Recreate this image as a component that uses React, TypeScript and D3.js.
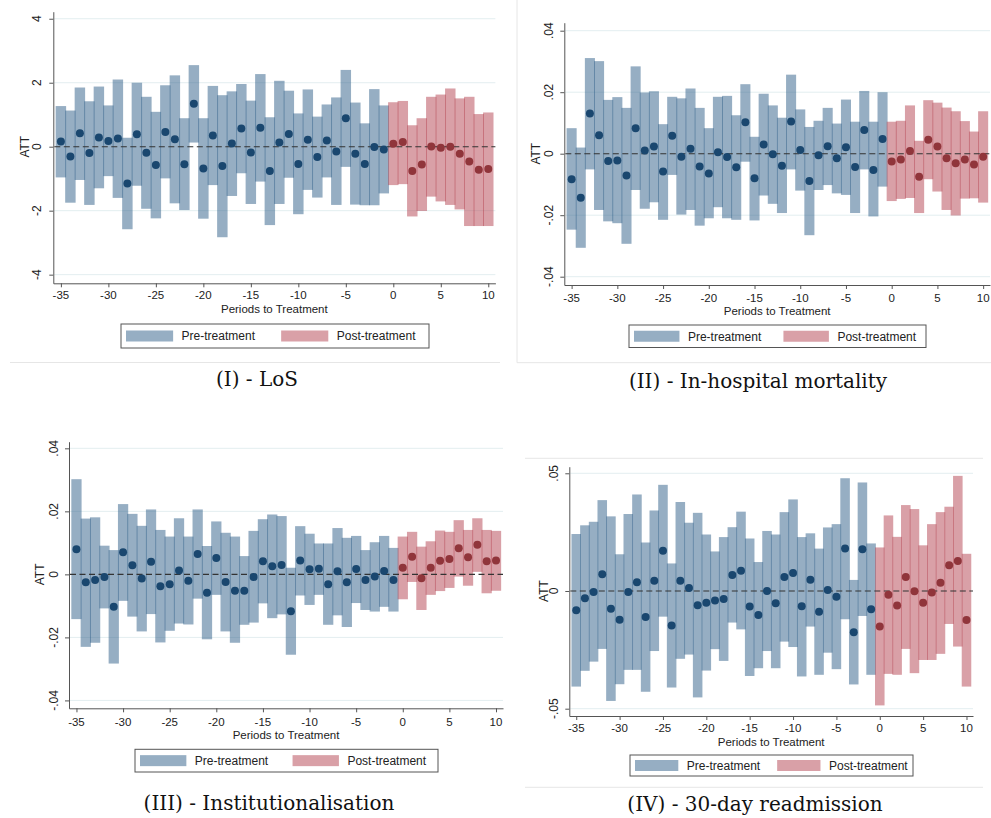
import React, { useEffect, useRef } from 'react'
import * as d3 from 'd3'

// periods to treatment (event time)
const periods = [
  -35, -34, -33, -32, -31, -30, -29, -28, -27, -26, -25, -24, -23, -22, -21, -20,
  -19, -18, -17, -16, -15, -14, -13, -12, -11, -10, -9, -8, -7, -6, -5, -4, -3, -2,
  -1, 0, 1, 2, 3, 4, 5, 6, 7, 8, 9, 10,
]
const xTicks = [-35, -30, -25, -20, -15, -10, -5, 0, 5, 10]

// (I) LoS
const losAtt = [
  0.16, -0.31, 0.42, -0.2, 0.29, 0.18, 0.26, -1.15, 0.39, -0.19, -0.57, 0.46, 0.23, -0.55, 1.34, -0.68,
  0.35, -0.6, 0.1, 0.57, -0.18, 0.59, -0.76, 0.13, 0.4, -0.54, 0.22, -0.32, 0.19, -0.15, 0.89, -0.22,
  -0.54, -0.01, -0.09, 0.09, 0.15, -0.76, -0.56, 0.01, -0.03, 0.0, -0.22, -0.46, -0.72, -0.7,
]
const losHi = [
  1.27, 1.13, 1.85, 1.42, 1.88, 1.29, 2.1, 0.28, 2.0, 1.56, 1.09, 1.92, 2.23, 0.89, 2.55, 0.89,
  1.9, 1.61, 1.73, 1.96, 1.44, 2.27, 0.92, 2.06, 1.75, 1.04, 1.79, 0.94, 1.32, 1.54, 2.4, 1.38,
  0.73, 1.8, 1.29, 1.39, 1.43, 0.67, 0.89, 1.56, 1.63, 1.82, 1.51, 1.56, 1.02, 1.07,
]
const losLo = [
  -0.96, -1.75, -1.04, -1.82, -1.3, -0.92, -1.6, -2.58, -1.22, -1.94, -2.24, -0.99, -1.77, -1.98, 0.13, -2.25,
  -1.2, -2.83, -1.54, -0.83, -1.79, -1.09, -2.45, -1.79, -0.97, -2.11, -1.35, -1.59, -0.96, -1.82, -0.63, -1.81,
  -1.83, -1.83, -1.46, -1.2, -1.17, -2.18, -2.01, -1.56, -1.71, -1.82, -1.96, -2.48, -2.48, -2.48,
]
const losTicks = [-4, -2, 0, 2, 4]
const losTickLabels = ['-4', '-2', '0', '2', '4']

// (II) In-hospital mortality
const mortAtt = [
  -0.0083, -0.0143, 0.0131, 0.006, -0.0024, -0.0022, -0.0071, 0.0083, 0.001, 0.0023, -0.0058, 0.0058,
  -0.001, 0.0016, -0.0042, -0.0064, 0.0005, -0.0011, -0.0044, 0.0102, -0.008, 0.003, -0.0002, -0.0039,
  0.0105, 0.0012, -0.0089, -0.0005, 0.0024, -0.0015, 0.0021, -0.0043, 0.0077, -0.0053, 0.0048, -0.0025,
  -0.0019, 0.0009, -0.0075, 0.0045, 0.0023, -0.0015, -0.0031, -0.0019, -0.0035, -0.001,
]
const mortHi = [
  0.0083, 0.002, 0.0311, 0.0301, 0.0175, 0.0184, 0.0149, 0.0284, 0.0199, 0.0203, 0.0096, 0.0185,
  0.018, 0.0212, 0.0149, 0.0083, 0.0185, 0.0188, 0.0125, 0.0226, 0.0055, 0.0195, 0.0157, 0.0117,
  0.0257, 0.0144, 0.0087, 0.0107, 0.0149, 0.0098, 0.0176, 0.0104, 0.0204, 0.0104, 0.02, 0.0104,
  0.0107, 0.0157, 0.0042, 0.0174, 0.0166, 0.015, 0.0138, 0.0106, 0.0072, 0.0138,
]
const mortLo = [
  -0.0247, -0.0306, -0.0051, -0.0183, -0.022, -0.0226, -0.0293, -0.0118, -0.0179, -0.0158, -0.0215, -0.0069,
  -0.0198, -0.0183, -0.0234, -0.021, -0.0174, -0.021, -0.0215, -0.0026, -0.0217, -0.0136, -0.0163, -0.0193,
  -0.0051, -0.012, -0.0265, -0.0118, -0.0102, -0.0129, -0.0134, -0.0193, -0.0051, -0.0204, -0.0107, -0.0154,
  -0.0147, -0.0144, -0.0193, -0.0083, -0.0123, -0.0183, -0.0201, -0.0146, -0.0145, -0.0159,
]
const mortTicks = [-0.04, -0.02, 0, 0.02, 0.04]
const mortTickLabels = ['-.04', '-.02', '0', '.02', '.04']

// (III) Institutionalisation
const instAtt = [
  0.008, -0.0025, -0.0018, -0.0008, -0.0103, 0.007, 0.0029, -0.0013, 0.004, -0.0038, -0.0031, 0.0012,
  -0.002, 0.0065, -0.0058, 0.0052, -0.0024, -0.0052, -0.0052, -0.0008, 0.0042, 0.0026, 0.003, -0.0117,
  0.0044, 0.0016, 0.0018, -0.0031, 0.001, -0.0025, 0.0017, -0.0018, -0.0007, 0.0011, -0.0018, 0.0021,
  0.0056, -0.0012, 0.0021, 0.0043, 0.0049, 0.0083, 0.0054, 0.0094, 0.0042, 0.0044,
]
const instHi = [
  0.0302, 0.0177, 0.0181, 0.0091, 0.0077, 0.0223, 0.0192, 0.0154, 0.0206, 0.0141, 0.012, 0.0178,
  0.012, 0.0206, 0.009, 0.0168, 0.0132, 0.012, 0.0058, 0.0138, 0.0175, 0.019, 0.0185, 0.0021,
  0.0153, 0.0129, 0.0098, 0.0098, 0.0147, 0.0116, 0.0122, 0.0077, 0.0102, 0.0122, 0.0084, 0.012,
  0.0135, 0.0088, 0.0105, 0.0139, 0.0135, 0.0172, 0.0141, 0.0178, 0.0141, 0.0138,
]
const instLo = [
  -0.0142, -0.023, -0.0217, -0.0108, -0.0283, -0.0084, -0.0134, -0.0181, -0.0126, -0.0216, -0.0179, -0.0156,
  -0.0159, -0.0077, -0.0206, -0.0065, -0.0181, -0.0217, -0.016, -0.0153, -0.0092, -0.0139, -0.0127, -0.0255,
  -0.0067, -0.0097, -0.0065, -0.016, -0.013, -0.0167, -0.0091, -0.0113, -0.0118, -0.0103, -0.0118, -0.0079,
  -0.0024, -0.0113, -0.0065, -0.0053, -0.0043, -0.0007, -0.0036, 0.0008, -0.006, -0.0052,
]
const instTicks = [-0.04, -0.02, 0, 0.02, 0.04]
const instTickLabels = ['-.04', '-.02', '0', '.02', '.04']

// (IV) 30-day readmission
const readAtt = [
  -0.0082, -0.0031, -0.0004, 0.0071, -0.0075, -0.0122, -0.0004, 0.0037, -0.011, 0.0044, 0.0171, -0.0147,
  0.0044, 0.0013, -0.0061, -0.005, -0.004, -0.0034, 0.0068, 0.0086, -0.0066, -0.0102, 0.0, -0.0052,
  0.0059, 0.0076, -0.0065, 0.0048, -0.0088, 0.0004, -0.0024, 0.018, -0.0175, 0.0177, -0.0078, -0.0151,
  -0.0016, -0.0062, 0.0059, -0.0001, -0.005, -0.0006, 0.0035, 0.0109, 0.0127, -0.0123,
]
const readHi = [
  0.0242, 0.0279, 0.0294, 0.0386, 0.0317, 0.0156, 0.0327, 0.041, 0.0206, 0.0342, 0.0451, 0.0117,
  0.0378, 0.029, 0.0332, 0.024, 0.0168, 0.0229, 0.0271, 0.0337, 0.0223, 0.0123, 0.0255, 0.024,
  0.0335, 0.0389, 0.0229, 0.0245, 0.018, 0.027, 0.0284, 0.0479, 0.0047, 0.0461, 0.0202, 0.0185,
  0.0321, 0.023, 0.0365, 0.0348, 0.0194, 0.0284, 0.0335, 0.0358, 0.0489, 0.0158,
]
const readLo = [
  -0.0406, -0.0339, -0.03, -0.0246, -0.0467, -0.0396, -0.0335, -0.0335, -0.0428, -0.0255, -0.0109, -0.041,
  -0.0288, -0.027, -0.0452, -0.0338, -0.0247, -0.0297, -0.0134, -0.0163, -0.0361, -0.0328, -0.0255, -0.0328,
  -0.0215, -0.0238, -0.0363, -0.0151, -0.0356, -0.0262, -0.0332, -0.012, -0.0397, -0.0106, -0.0356, -0.0486,
  -0.0352, -0.0356, -0.0246, -0.0349, -0.0293, -0.0293, -0.0267, -0.014, -0.0236, -0.0406,
]
const readTicks = [-0.05, 0, 0.05]
const readTickLabels = ['-.05', '0', '.05']

const PRE_BAR = '#2d5d87'
const POST_BAR = '#b3414f'
const PRE_DOT = '#1a476f'
const POST_DOT = '#90353b'
const SANS = 'Liberation Sans, Arial, sans-serif'
const SERIF = 'DejaVu Serif, serif'

const panels = [
  {
    att: losAtt, lo: losLo, hi: losHi, ticks: losTicks, tickLabels: losTickLabels,
    left: 53.3, right: 495.4, top: 11.7, bottom: 283.3, yDomain: [-4.27, 4.22],
    yLabelX: 41.3, attX: 28.5, xLabelY: 299, titleY: 312.5,
    legend: { x: 121, y: 324, w: 308, h: 24 },
    caption: '(I) - LoS', capX: 257, capY: 386,
  },
  {
    att: mortAtt, lo: mortLo, hi: mortHi, ticks: mortTicks, tickLabels: mortTickLabels,
    left: 564.3, right: 990, top: 22.7, bottom: 285, yDomain: [-0.0427, 0.0426],
    yLabelX: 552.5, attX: 539.5, xLabelY: 301.5, titleY: 315,
    legend: { x: 629, y: 325, w: 297, h: 22.5 },
    caption: '(II) - In-hospital mortality', capX: 758, capY: 388,
  },
  {
    att: instAtt, lo: instLo, hi: instHi, ticks: instTicks, tickLabels: instTickLabels,
    left: 69, right: 503, top: 441.7, bottom: 708.3, yDomain: [-0.0425, 0.0421],
    yLabelX: 57.5, attX: 43.5, xLabelY: 725.5, titleY: 739,
    legend: { x: 135, y: 749.3, w: 303, h: 22.7 },
    caption: '(III) - Institutionalisation', capX: 269, capY: 810,
  },
  {
    att: readAtt, lo: readLo, hi: readHi, ticks: readTicks, tickLabels: readTickLabels,
    left: 569.3, right: 973, top: 466.7, bottom: 716, yDomain: [-0.0531, 0.0528],
    yLabelX: 557.5, attX: 547.5, xLabelY: 732, titleY: 745.5,
    legend: { x: 630, y: 755, w: 283, h: 21 },
    caption: '(IV) - 30-day readmission', capX: 755, capY: 811,
  },
]

const App = () => {
  const ref = useRef<SVGSVGElement>(null)

  useEffect(() => {
    const svg = d3.select(ref.current)
    svg.selectAll('*').remove()

    // faint frame lines around the sub-images
    const frames = [
      [10, 362.5, 500, 362.5],
      [517, 0, 517, 362.7],
      [517, 362.7, 991, 362.7],
      [525, 458.3, 983, 458.3],
      [525, 787.3, 983, 787.3],
    ]
    svg
      .selectAll('line.frame')
      .data(frames)
      .enter()
      .append('line')
      .attr('x1', (d) => d[0])
      .attr('y1', (d) => d[1])
      .attr('x2', (d) => d[2])
      .attr('y2', (d) => d[3])
      .attr('stroke', '#e6e6e6')
      .attr('stroke-width', 1)

    panels.forEach((p) => {
      const g = svg.append('g')
      const x = d3.scaleLinear().domain([-35.8, 10.75]).range([p.left, p.right])
      const y = d3.scaleLinear().domain(p.yDomain).range([p.bottom, p.top])

      const rows = periods.map((per, i) => ({
        per,
        att: p.att[i],
        lo: p.lo[i],
        hi: p.hi[i],
      }))

      // gridlines
      g.selectAll('line.grid')
        .data(p.ticks.filter((t) => t !== 0))
        .enter()
        .append('line')
        .attr('x1', p.left + 1)
        .attr('x2', p.right)
        .attr('y1', (d) => y(d))
        .attr('y2', (d) => y(d))
        .attr('stroke', '#e3eef0')
        .attr('stroke-width', 1)

      // confidence bars
      g.selectAll('rect.bar')
        .data(rows)
        .enter()
        .append('rect')
        .attr('x', (d) => x(d.per - 0.55))
        .attr('width', (d) => x(d.per + 0.55) - x(d.per - 0.55))
        .attr('y', (d) => y(d.hi))
        .attr('height', (d) => y(d.lo) - y(d.hi))
        .attr('fill', (d) => (d.per < 0 ? PRE_BAR : POST_BAR))
        .attr('fill-opacity', 0.5)

      // zero line
      g.append('line')
        .attr('x1', p.left + 1)
        .attr('x2', p.right)
        .attr('y1', y(0))
        .attr('y2', y(0))
        .attr('stroke', '#333')
        .attr('stroke-width', 1.1)
        .attr('stroke-dasharray', '6 3.5')

      // point estimates
      g.selectAll('circle.dot')
        .data(rows)
        .enter()
        .append('circle')
        .attr('cx', (d) => x(d.per))
        .attr('cy', (d) => y(d.att))
        .attr('r', 4)
        .attr('fill', (d) => (d.per < 0 ? PRE_DOT : POST_DOT))

      // axes
      const xAxis = g
        .append('g')
        .attr('transform', `translate(0,${p.bottom})`)
        .call(d3.axisBottom(x).tickValues(xTicks).tickSize(4).tickSizeOuter(0))
      xAxis.selectAll('text').remove()
      const yAxis = g
        .append('g')
        .attr('transform', `translate(${p.left},0)`)
        .call(d3.axisLeft(y).tickValues(p.ticks).tickSize(4).tickSizeOuter(0))
      yAxis.selectAll('text').remove()
      ;[xAxis, yAxis].forEach((a) => {
        a.select('.domain').attr('stroke', '#555')
        a.selectAll('.tick line').attr('stroke', '#555')
      })

      g.selectAll('text.xlab')
        .data(xTicks)
        .enter()
        .append('text')
        .attr('x', (d) => x(d))
        .attr('y', p.xLabelY)
        .attr('text-anchor', 'middle')
        .style('font-family', SANS)
        .style('font-size', '11.5px')
        .attr('fill', '#222')
        .text((d) => String(d))

      g.selectAll('text.ylab')
        .data(p.ticks)
        .enter()
        .append('text')
        .attr('transform', (d) => `translate(${p.yLabelX},${y(d)}) rotate(-90)`)
        .attr('text-anchor', 'middle')
        .style('font-family', SANS)
        .style('font-size', '12px')
        .attr('fill', '#222')
        .text((d, i) => p.tickLabels[i])

      g.append('text')
        .attr('transform', `translate(${p.attX},${y(0)}) rotate(-90)`)
        .attr('text-anchor', 'middle')
        .style('font-family', SANS)
        .style('font-size', '12px')
        .attr('fill', '#222')
        .text('ATT')

      g.append('text')
        .attr('x', (p.left + p.right) / 2)
        .attr('y', p.titleY)
        .attr('text-anchor', 'middle')
        .style('font-family', SANS)
        .style('font-size', '11.5px')
        .attr('fill', '#222')
        .text('Periods to Treatment')

      // legend
      const L = p.legend
      const lg = g.append('g')
      lg.append('rect')
        .attr('x', L.x)
        .attr('y', L.y)
        .attr('width', L.w)
        .attr('height', L.h)
        .attr('fill', 'white')
        .attr('stroke', '#555')
        .attr('stroke-width', 1)
      const items = [
        { label: 'Pre-treatment', color: PRE_BAR, off: 5 },
        { label: 'Post-treatment', color: POST_BAR, off: L.w * 0.52 },
      ]
      items.forEach((it) => {
        const sw = L.w * 0.153
        lg.append('rect')
          .attr('x', L.x + it.off)
          .attr('y', L.y + L.h / 2 - 5.5)
          .attr('width', sw)
          .attr('height', 11)
          .attr('fill', it.color)
          .attr('fill-opacity', 0.5)
        lg.append('text')
          .attr('x', L.x + it.off + sw + 8.5)
          .attr('y', L.y + L.h / 2 + 4.3)
          .style('font-family', SANS)
          .style('font-size', '12px')
          .attr('fill', '#222')
          .text(it.label)
      })

      // caption
      g.append('text')
        .attr('x', p.capX)
        .attr('y', p.capY)
        .attr('text-anchor', 'middle')
        .style('font-family', SERIF)
        .style('font-size', '20px')
        .attr('fill', '#111')
        .text(p.caption)
    })
  }, [])

  return (
    <svg
      ref={ref}
      width={991}
      height={818}
      style={{ position: 'absolute', left: 0, top: 0, background: 'white' }}
    />
  )
}

export default App
